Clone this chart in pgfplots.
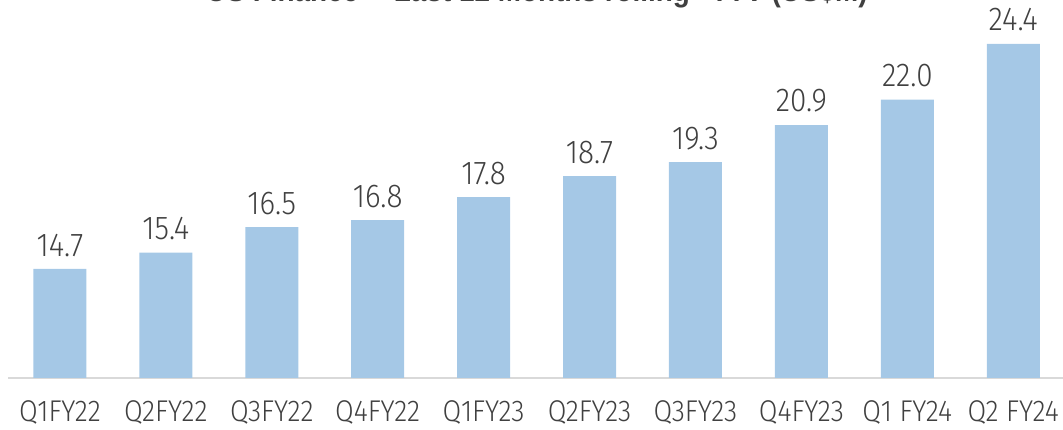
\documentclass[border=0pt]{standalone}
\usepackage{fontspec}
\setmainfont{Fira Sans Light}[FakeStretch=0.9]
\newfontfamily\titlefont{Liberation Sans}[FakeStretch=0.9]
\usepackage{pgfplots}
\pgfplotsset{compat=1.18}
\definecolor{barblue}{HTML}{A5C8E6}
\definecolor{txtgray}{HTML}{404040}
\definecolor{axgray}{HTML}{D9D9D9}
\begin{document}
\begin{tikzpicture}[x=1bp,y=1bp]
\begin{axis}[
  at={(8bp,52bp)}, anchor=south west,
  scale only axis, width=1055bp, height=378bp,
  xmin=-0.49, xmax=9.47, ymin=10, ymax=26.29,
  axis y line=none, axis x line*=bottom,
  x axis line style={axgray, line width=2bp, -},
  xtick=data, major tick length=0pt,
  xticklabels={Q1FY22,Q2FY22,Q3FY22,Q4FY22,Q1FY23,Q2FY23,Q3FY23,Q4FY23,Q1 FY24,Q2 FY24},
  xticklabel style={font=\fontsize{30bp}{31bp}\selectfont, text=txtgray, yshift=-19bp},
  ybar, bar width=53bp,
  nodes near coords, point meta=explicit symbolic,
  nodes near coords style={font=\fontsize{33bp}{34bp}\selectfont, text=txtgray, yshift=9bp},
  clip=false,
]
\addplot[fill=barblue, draw=none] table[meta=L] {
x y L
0 14.7 14.7
1 15.4 15.4
2 16.5 16.5
3 16.8 16.8
4 17.8 17.8
5 18.7 18.7
6 19.3 19.3
7 20.9 20.9
8 22.0 22.0
9 24.4 24.4
};
\end{axis}
\node[font=\titlefont\bfseries\fontsize{31bp}{33bp}\selectfont, text=txtgray] at (537bp,437bp) {US Finance- ``Last 12 Months rolling'' TTV (US\$M)};
\pgfresetboundingbox
\useasboundingbox (0,0) rectangle (1063bp,430bp);
\end{tikzpicture}
\end{document}
